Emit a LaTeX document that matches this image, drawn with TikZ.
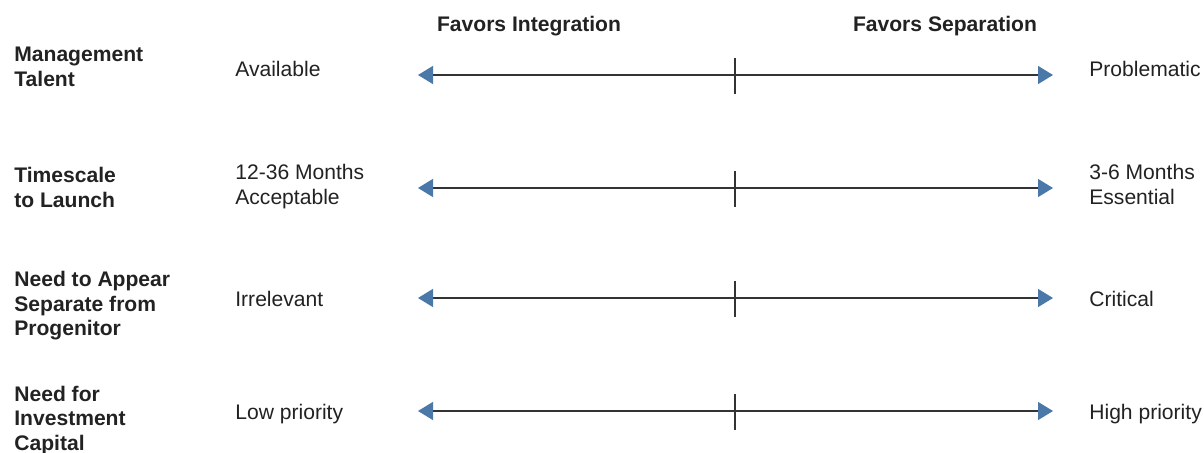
\documentclass[tikz,border=0pt]{standalone}
\usepackage{fontspec}
\setmainfont{Liberation Sans}
\usetikzlibrary{arrows.meta}
\definecolor{tipblue}{HTML}{4A78A8}
\definecolor{inkgray}{HTML}{222222}
\definecolor{linegray}{HTML}{333333}
\tikzset{spectrum/.style = {linegray, line width = 0.75pt,
                            {Triangle[length=0.3cm, width=0.36cm, color=tipblue]}-{Triangle[length=0.3cm, width=0.36cm, color=tipblue]}}}
\tikzset{tick/.style = {linegray, line width = 0.75pt}}
\tikzset{txt/.style = {inkgray, inner sep = 0, anchor = west, align = left,
                       font = \fontsize{12}{13.9}\selectfont}}
\tikzset{head/.style = {txt, font = \fontsize{12}{13.9}\selectfont\bfseries}}

\begin{document}
\begin{tikzpicture}[x=0.02cm, y=-0.02cm]
    \useasboundingbox (0, 0) rectangle (1204, 453);

    % column headings
    \node [head, anchor = center] (integ) at (529, 26.5) {Favors Integration};
    \node [head, anchor = center] (separ) at (945, 26.5) {Favors Separation};

    % management talent
    \node [head] (talent) at (14, 67) {Management\\Talent};
    \node [txt] (talentlo) at (235, 69) {Available};
    \node [txt] (talenthi) at (1089, 69) {Problematic};
    \coordinate (l1) at (418, 75);
    \coordinate (r1) at (1053, 75);
    \coordinate (t1a) at (735, 58);
    \coordinate (t1b) at (735, 94);
    \draw [spectrum] (l1) -- (r1);
    \draw [tick] (t1a) -- (t1b);

    % timescale to launch
    \node [head] (launch) at (14, 187.5) {Timescale\\to Launch};
    \node [txt] (launchlo) at (235, 186.5) {12-36 Months\\Acceptable};
    \node [txt] (launchhi) at (1089, 184.5) {3-6 Months\\Essential};
    \coordinate (l2) at (418, 188);
    \coordinate (r2) at (1053, 188);
    \coordinate (t2a) at (735, 171);
    \coordinate (t2b) at (735, 207);
    \draw [spectrum] (l2) -- (r2);
    \draw [tick] (t2a) -- (t2b);

    % need to appear separate
    \node [head] (appear) at (14, 306) {Need to Appear\\Separate from\\Progenitor};
    \node [txt] (appearlo) at (235, 299) {Irrelevant};
    \node [txt] (appearhi) at (1089, 299) {Critical};
    \coordinate (l3) at (418, 298);
    \coordinate (r3) at (1053, 298);
    \coordinate (t3a) at (735, 281);
    \coordinate (t3b) at (735, 317);
    \draw [spectrum] (l3) -- (r3);
    \draw [tick] (t3a) -- (t3b);

    % need for investment capital
    \node [head] (capital) at (14, 420.5) {Need for\\Investment\\Capital};
    \node [txt] (capitallo) at (235, 414) {Low priority};
    \node [txt] (capitalhi) at (1089, 414) {High priority};
    \coordinate (l4) at (418, 411);
    \coordinate (r4) at (1053, 411);
    \coordinate (t4a) at (735, 394);
    \coordinate (t4b) at (735, 430);
    \draw [spectrum] (l4) -- (r4);
    \draw [tick] (t4a) -- (t4b);
\end{tikzpicture}
\end{document}
